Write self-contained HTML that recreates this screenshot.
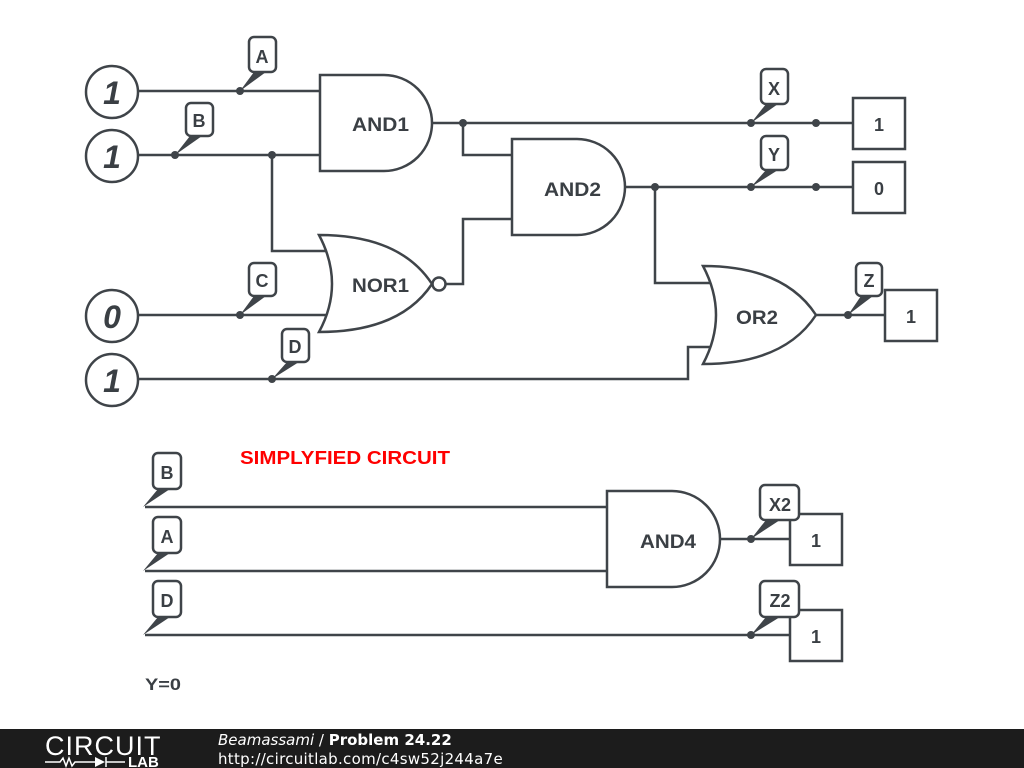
<!DOCTYPE html>
<html><head><meta charset="utf-8"><style>
html,body{margin:0;padding:0;background:#fff;width:1024px;height:768px;overflow:hidden}
svg{display:block}
text{font-family:"Liberation Sans",sans-serif;font-weight:bold;fill:#3a3f44}
</style></head><body>
<svg width="1024" height="768" viewBox="0 0 1024 768" xmlns="http://www.w3.org/2000/svg">
<g fill="none" stroke="#3f4449" stroke-width="2.5">
<circle cx="112" cy="92" r="26"/><circle cx="112" cy="156" r="26"/>
<circle cx="112" cy="316" r="26"/><circle cx="112" cy="380" r="26"/>
<path d="M138 91H320M138 155H320M272 155V251H330M138 315H330M138 379H688V347H712"/>
<path d="M432 123H852M463 123V155H512M446 284H463V219H512M625 187H852M655 187V283H712M815 315H885"/>
<path d="M320 75H384A48 48 0 0 1 384 171H320Z" fill="#fff"/>
<path d="M512 139H577A48 48 0 0 1 577 235H512Z" fill="#fff"/>
<path d="M319 235Q345 284 319 332Q400 332 432 284Q400 235 319 235Z" fill="#fff"/>
<circle cx="439" cy="284" r="6.5" fill="#fff"/>
<path d="M703 266Q729 315 703 364Q784 364 816 315Q784 266 703 266Z" fill="#fff"/>
<rect x="853" y="98" width="52" height="51" fill="#fff"/>
<rect x="853" y="162" width="52" height="51" fill="#fff"/>
<rect x="885" y="290" width="52" height="51" fill="#fff"/>
<path d="M145 507H608M145 571H608M145 635H790M720 539H790"/>
<path d="M607 491H672A48 48 0 0 1 672 587H607Z" fill="#fff"/>
<rect x="790" y="514" width="52" height="51" fill="#fff"/>
<rect x="790" y="610" width="52" height="51" fill="#fff"/>
</g>
<g fill="#3f4449">
<circle cx="240" cy="91" r="4"/><circle cx="175" cy="155" r="4"/><circle cx="272" cy="155" r="4"/>
<circle cx="240" cy="315" r="4"/><circle cx="272" cy="379" r="4"/>
<circle cx="463" cy="123" r="4"/><circle cx="751" cy="123" r="4"/><circle cx="816" cy="123" r="4"/>
<circle cx="655" cy="187" r="4"/><circle cx="751" cy="187" r="4"/><circle cx="816" cy="187" r="4"/>
<circle cx="848" cy="315" r="4"/>
<circle cx="751" cy="539" r="4"/><circle cx="751" cy="635" r="4"/>
<polygon points="240,91 254,72 266,72"/>
<polygon points="175,155 190,136 202,136"/>
<polygon points="240,315 254,296 266,296"/>
<polygon points="272,379 287,362 299,362"/>
<polygon points="751,123 766,104 778,104"/>
<polygon points="751,187 766,170 778,170"/>
<polygon points="848,315 861,296 873,296"/>
<polygon points="143,507 158,489 170,489"/>
<polygon points="143,571 158,553 170,553"/>
<polygon points="143,635 158,617 170,617"/>
<polygon points="751,539 766,520 780,520"/>
<polygon points="751,635 766,617 780,617"/>
</g>
<g fill="#fff" stroke="#3f4449" stroke-width="2.5">
<rect x="249" y="37" width="27" height="35" rx="5"/>
<rect x="186" y="103" width="27" height="33" rx="5"/>
<rect x="249" y="263" width="27" height="33" rx="5"/>
<rect x="282" y="329" width="27" height="33" rx="5"/>
<rect x="761" y="69" width="27" height="35" rx="5"/>
<rect x="761" y="136" width="27" height="34" rx="5"/>
<rect x="856" y="263" width="26" height="33" rx="5"/>
<rect x="153" y="453" width="28" height="36" rx="5"/>
<rect x="153" y="517" width="28" height="36" rx="5"/>
<rect x="153" y="581" width="28" height="36" rx="5"/>
<rect x="760" y="485" width="39" height="35" rx="5"/>
<rect x="760" y="581" width="39" height="36" rx="5"/>
</g>
<g font-size="18" text-anchor="middle">
<text x="262" y="63">A</text><text x="199" y="127">B</text><text x="262" y="287">C</text><text x="295" y="353">D</text>
<text x="774" y="95">X</text><text x="774" y="161">Y</text><text x="869" y="287">Z</text>
<text x="167" y="479">B</text><text x="167" y="543">A</text><text x="167" y="607">D</text>
<text x="780" y="511">X2</text><text x="780" y="607">Z2</text>
<text x="879" y="131">1</text><text x="879" y="195">0</text><text x="911" y="323">1</text>
<text x="816" y="547">1</text><text x="816" y="643">1</text>
</g>
<g font-size="19">
<text x="352" y="131" textLength="57" lengthAdjust="spacingAndGlyphs">AND1</text>
<text x="544" y="196" textLength="57" lengthAdjust="spacingAndGlyphs">AND2</text>
<text x="352" y="292" textLength="57" lengthAdjust="spacingAndGlyphs">NOR1</text>
<text x="736" y="324" textLength="42" lengthAdjust="spacingAndGlyphs">OR2</text>
<text x="640" y="548" textLength="56" lengthAdjust="spacingAndGlyphs">AND4</text>
</g>
<g font-size="32" font-style="italic" text-anchor="middle">
<text x="112" y="104">1</text><text x="112" y="168">1</text><text x="112" y="328">0</text><text x="112" y="392">1</text>
</g>
<text x="240" y="464" font-size="18" textLength="210" lengthAdjust="spacingAndGlyphs" style="fill:#f00">SIMPLYFIED CIRCUIT</text>
<text x="145" y="690" font-size="17" textLength="36" lengthAdjust="spacingAndGlyphs">Y=0</text>
<rect x="0" y="729" width="1024" height="39" fill="#1c1c1c"/>
<text x="45" y="755" font-size="27" style="fill:#fff;font-weight:normal;letter-spacing:1px">CIRCUIT</text>
<path d="M45 762H60l3-4 3 8 3-8 3 8 3-4H95M106 757v10M106 762H125" stroke="#fff" stroke-width="1.5" fill="none"/>
<path d="M95 757v10l10-5z" fill="#fff"/>
<text x="128" y="767" font-size="15" style="fill:#fff">LAB</text>
<text x="218" y="745" font-size="15" style="fill:#fff;font-weight:normal;font-family:'DejaVu Sans',sans-serif"><tspan font-style="italic">Beamassami</tspan> / <tspan font-weight="bold">Problem 24.22</tspan></text>
<text x="218" y="764" font-size="15" style="fill:#fff;font-weight:normal;font-family:'DejaVu Sans',sans-serif;letter-spacing:0.3px">http://circuitlab.com/c4sw52j244a7e</text>
</svg>
</body></html>
